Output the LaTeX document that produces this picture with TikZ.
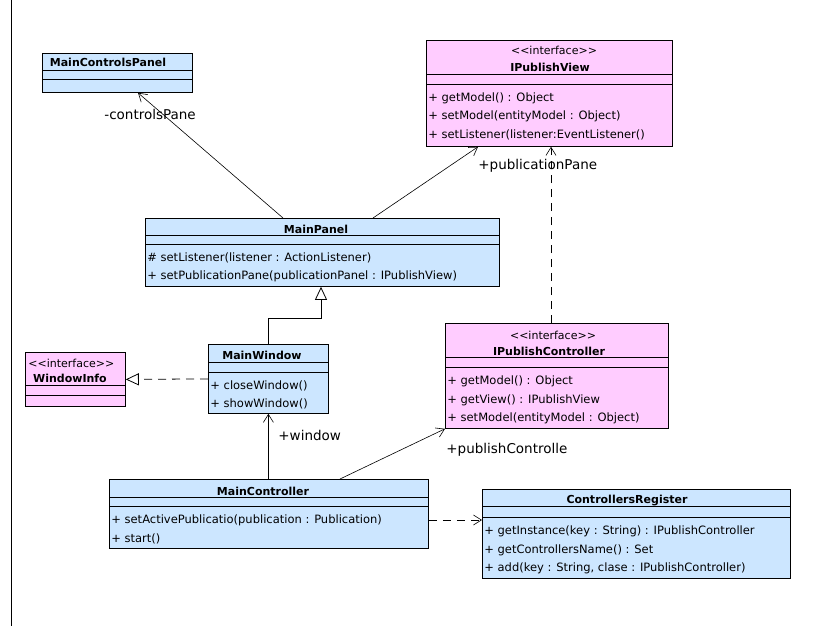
\documentclass[tikz,border=0pt]{standalone}
\usepackage{fontspec}
\setmainfont{DejaVu Sans}
\usetikzlibrary{arrows.meta}

\definecolor{clsblue}{RGB}{204,230,255}
\definecolor{ifpink}{RGB}{255,204,255}

% two compartment lines of a class box
\newcommand{\ClassLines}[3]{%
  \draw (#1.west |- 0,#2) -- (#1.east |- 0,#2);
  \draw (#1.west |- 0,#3) -- (#1.east |- 0,#3);}
% stereotype text, no guillemet ligature
\newcommand{\IfaceTag}{<{}<interface>{}>}

\begin{document}
\begin{tikzpicture}[x=1pt,y=-1pt,line width=0.8pt]
  \tikzstyle{Box}=[draw,anchor=north west,inner sep=0pt]
  \tikzstyle{Name}=[inner sep=0pt,font=\bfseries\fontsize{11}{12}\selectfont]
  \tikzstyle{Stereo}=[inner sep=0pt,font=\fontsize{11}{13}\selectfont]
  \tikzstyle{Op}=[anchor=west,inner sep=0pt,font=\fontsize{11.5}{13}\selectfont]
  \tikzstyle{Role}=[anchor=west,inner sep=0pt,font=\fontsize{13.5}{15}\selectfont]
  \tikzstyle{Assoc}=[line width=0.6pt,-{Straight Barb[length=8pt,width=10pt]}]
  \tikzstyle{Dep}=[Assoc,dash pattern=on 8pt off 6pt]
  \tikzstyle{Gen}=[line width=0.8pt,-{Triangle[open,length=13pt,width=12pt]}]
  \useasboundingbox[fill=white] (0,0) rectangle (839,626);
  \draw (11,0) -- (11,626);

  % MainControlsPanel
  \node[Box,fill=clsblue,minimum width=150pt,minimum height=39pt] (mcp) at (42,53) {};
  \node[Name] (mcpname) at (108,62) {MainControlsPanel};
  \ClassLines{mcp}{70}{79}

  % IPublishView
  \node[Box,fill=ifpink,minimum width=246pt,minimum height=106pt] (ipv) at (426,40) {};
  \node[Stereo] (ipvst) at (554,50) {\IfaceTag};
  \node[Name] (ipvname) at (550,67) {IPublishView};
  \ClassLines{ipv}{74}{84}
  \node[Op] (ipv1) at (428,98) {+ getModel() : Object};
  \node[Op] (ipv2) at (428,116) {+ setModel(entityModel : Object)};
  \node[Op] (ipv3) at (428,135) {+ setListener(listener:EventListener()};

  % MainPanel
  \node[Box,fill=clsblue,minimum width=354pt,minimum height=68pt] (mp) at (145,218) {};
  \node[Name] (mpname) at (316,229) {MainPanel};
  \ClassLines{mp}{235}{244}
  \node[Op] (mp1) at (147,258) {\# setListener(listener : ActionListener)};
  \node[Op] (mp2) at (147,276) {+ setPublicationPane(publicationPanel : IPublishView)};

  % WindowInfo
  \node[Box,fill=ifpink,minimum width=100pt,minimum height=54pt] (wi) at (25,352) {};
  \node[Stereo,anchor=west] (wist) at (28,363) {\IfaceTag};
  \node[Name] (winame) at (70,378) {WindowInfo};
  \ClassLines{wi}{385}{395}

  % MainWindow
  \node[Box,fill=clsblue,minimum width=120pt,minimum height=69pt] (mw) at (208,344) {};
  \node[Name] (mwname) at (262,355) {MainWindow};
  \ClassLines{mw}{362}{372}
  \node[Op] (mw1) at (210,386) {+ closeWindow()};
  \node[Op] (mw2) at (210,404) {+ showWindow()};

  % IPublishController
  \node[Box,fill=ifpink,minimum width=223pt,minimum height=105pt] (ipc) at (445,323) {};
  \node[Stereo] (ipcst) at (553,335) {\IfaceTag};
  \node[Name] (ipcname) at (549,351) {IPublishController};
  \ClassLines{ipc}{357}{367}
  \node[Op] (ipc1) at (447,381) {+ getModel() : Object};
  \node[Op] (ipc2) at (447,400) {+ getView() : IPublishView};
  \node[Op] (ipc3) at (447,418) {+ setModel(entityModel : Object)};

  % MainController
  \node[Box,fill=clsblue,minimum width=319pt,minimum height=69pt] (mc) at (109,479) {};
  \node[Name] (mcname) at (263,491) {MainController};
  \ClassLines{mc}{497}{506}
  \node[Op] (mc1) at (111,520) {+ setActivePublicatio(publication : Publication)};
  \node[Op] (mc2) at (111,539) {+ start()};

  % ControllersRegister
  \node[Box,fill=clsblue,minimum width=308pt,minimum height=89pt] (cr) at (482,489) {};
  \node[Name] (crname) at (627,501) {ControllersRegister};
  \ClassLines{cr}{506}{517}
  \node[Op] (cr1) at (484,531) {+ getInstance(key : String) : IPublishController};
  \node[Op] (cr2) at (484,550) {+ getControllersName() : Set};
  \node[Op] (cr3) at (484,568) {+ add(key : String, clase : IPublishController)};

  % connectors
  \draw[Assoc] ([xshift=138pt]mp.north west) -- ([xshift=96pt]mcp.south west);
  \node[Role] (rcp) at (104,114) {-controlsPane};
  \draw[Assoc] ([xshift=228pt]mp.north west) -- ([xshift=52pt]ipv.south west);
  \draw[Dep] ([xshift=106pt]ipc.north west) -- ([xshift=125pt]ipv.south west);
  \node[Role] (rpp) at (478,166) {+publicationPane};
  \draw[Gen] (mw.north) -- ++(0,-26) -| ([xshift=176pt]mp.south west);
  \draw[Gen,dash pattern=on 8pt off 6pt] (mw.west) -- (wi.east);
  \draw[Assoc] (mw.south |- mc.north) -- (mw.south);
  \node[Role] (rw) at (278,435) {+window};
  \draw[Assoc] ([xshift=231pt]mc.north west) -- (ipc.south west);
  \node[Role] (rpc) at (446,450) {+publishControlle};
  \draw[Dep] (mc.east |- 0,520) -- (cr.west |- 0,520);
\end{tikzpicture}
\end{document}
